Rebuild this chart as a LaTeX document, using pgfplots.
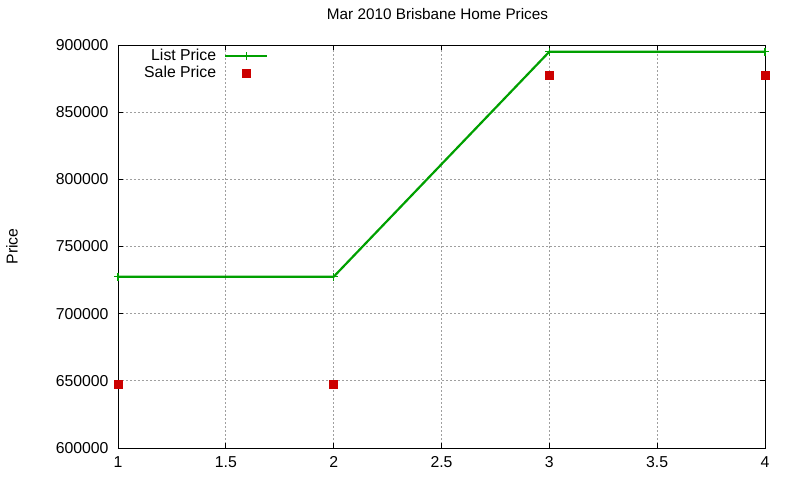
\documentclass[border=0pt]{standalone}
\usepackage{fontspec}
\setmainfont{Liberation Sans}
\usepackage{pgfplots}
\pgfplotsset{compat=1.18}
\definecolor{lpgreen}{RGB}{0,160,0}
\definecolor{spred}{RGB}{204,0,0}
\begin{document}
\fontsize{15.8bp}{18bp}\selectfont
\begin{tikzpicture}
\begin{axis}[
    scale only axis,
    width=647bp, height=403bp,
    xmin=1, xmax=4, ymin=600000, ymax=900000,
    xtick={1,1.5,...,4},
    ytick={600000,650000,...,900000},
    scaled y ticks=false,
    yticklabel style={xshift=-4bp, /pgf/number format/.cd, fixed, 1000 sep={}},
    xticklabel style={yshift=-3bp},
    /pgf/number format/assume math mode=true,
    tick align=inside,
    major tick length=5bp,
    tick style={black, line width=0.8bp},
    grid=major,
    grid style={gray!75, line width=0.7bp, dash pattern=on 2bp off 2bp},
    axis line style={line width=0.8bp},
    clip=false,
    title={Mar 2010 Brisbane Home Prices},
    title style={at={(axis description cs:0.5,1)}, anchor=center, yshift=25bp, xshift=-4bp,
        font=\fontsize{15.3bp}{18bp}\selectfont},
    ylabel={Price},
    ylabel style={at={(axis description cs:0,0.5)}, anchor=center, yshift=106bp},
    legend style={draw=none, fill=none, at={(rel axis cs:0,1)}, anchor=north west,
        xshift=21bp, yshift=0bp, legend cell align=right, row sep=-1bp,
        font=\fontsize{15.8bp}{15.8bp}\selectfont},
    legend plot pos=right,
    legend image code/.code={\path (0bp,0bp);
        \draw[mark repeat=2, mark phase=2, #1]
        plot coordinates {(6bp,0bp) (27bp,0bp) (48bp,0bp)};},
]
\addplot[lpgreen, line width=2.2bp, mark=+, mark size=4bp, mark options={line width=1.5bp}]
    coordinates {(1,727500) (2,727500) (3,895000) (4,895000)};
\addlegendentry{List Price}
\addplot[only marks, spred, mark=square*, mark size=4bp]
    coordinates {(1,647500) (2,647500) (3,877500) (4,877500)};
\addlegendentry{Sale Price}
\end{axis}
\path[use as bounding box] ([xshift=-118bp,yshift=-32bp]current axis.south west)
    rectangle ([xshift=35bp,yshift=45bp]current axis.north east);
\end{tikzpicture}
\end{document}
